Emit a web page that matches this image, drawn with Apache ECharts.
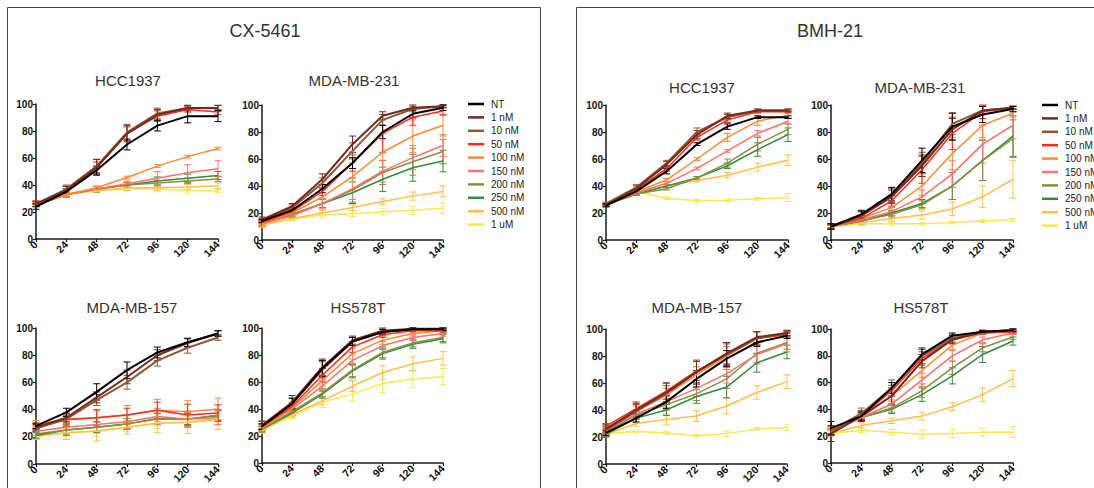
<!DOCTYPE html>
<html><head><meta charset="utf-8">
<script src="https://cdn.jsdelivr.net/npm/echarts@6/dist/echarts.min.js"></script>
<style>html,body{margin:0;padding:0;background:#fff}#c{width:1094px;height:488px}</style>
</head><body><div id="c"></div>
<script>
const timepoints = [0, 24, 48, 72, 96, 120, 144];
const doses = ['NT', '1 nM', '10 nM', '50 nM', '100 nM', '150 nM', '200 nM', '250 nM', '500 nM', '1 uM'];
const panelTitles = ['CX-5461', 'BMH-21'];
const cellLines = ['HCC1937', 'MDA-MB-231', 'MDA-MB-157', 'HS578T'];

// CX-5461
const cxHcc1937 = [
[24,35,51,70,84,91,91],[26,36,53,78,92,97,97],[26,37,54,79,93,97,97],[26,36,53,78,91,96,94],
[26,33,38,45.5,54,61,67],[26,33,37,41,45,49,52],[25,33,37,40,41.5,43,44.5],[25,33,37,40,43,45,47],
[25,33,36,38,38,38.5,39.5],[25,33,35.5,37,37,36,35.5]];
const cxHcc1937Err = [
[2,2,3,4,4,5,4],[2,3,6,6,4,2,2],[2,3,5,6,4,2,2],[2,3,4,5,4,2,2],[1,1,1,1,1,1,1],
[2,2,2,2,5,6,6],[1,2,2,2,2,2,2],[1,2,2,2,3,3,3],[1,1,1,2,2,2,2],[1,1,1,1,2,2,1]];
const cxMda231 = [
[14,22,38,57,80,93.5,98],[15,25,45,71,92,98,99],[14,24,42,66,89,97,99],[13,21,36,57,79,91,95.5],
[12,20,32,47,65,77,85],[12,18,27,38,51,61,70],[12,19,27,37,50,58,65.5],[12,19,27,35,45,53.5,58.5],
[11,16,20,24,28.5,32.5,36],[12,15.5,18.5,19.5,21,22,23.5]];
const cxMda231Err = [
[1,2,3,4,5,3,2],[2,2,4,6,3,2,1],[2,2,4,6,4,2,1],[2,2,3,6,14,6,3],[2,2,5,10,14,12,8],
[2,2,4,8,8,9,8],[2,2,3,9,9,10,9],[2,2,3,8,9,10,8],[2,1,2,2,2,3,4],[1,1,2,2,2,3,4]];
const cxMda157 = [
[28,38,53,69,82,89.5,96],[27,34,49,64,80,89,96],[26,33,47,60,76,85.5,93],[27,32.5,34,36,39.5,36,37.5],
[29,33,34,36,39.5,38.5,40.5],[24,27,29,31,35,33,34],[22,25,27,29.5,33.5,33,36],[21,25,27,29.5,33,33,35.5],
[21,23,24,27,30,30.5,32.5],[20,23,24.5,27,30,31,33]];
const cxMda157Err = [
[2,3,6,6,4,3,2],[2,3,4,5,4,3,2],[2,3,4,5,4,4,2],[3,5,6,5,6,8,6],[3,5,5,7,8,8,8],
[3,4,5,5,6,6,5],[3,4,4,4,4,5,4],[2,3,4,4,4,4,4],[3,5,7,5,7,8,7],[2,3,4,3,4,4,4]];
const cxHs578t = [
[27,44,70,90,97,99,99],[28,45,71,91,98,99.5,99.5],[28,44,69,90,97,99,99],[27,42,65,86,95,98,98],
[26,41,61,81,91,96,98],[26,40,57,76,87,93,96],[25,38,52,69,82,89,93],[25,37,51,68,81,88,92],
[25,36,46,57,67,73.5,77.5],[24,35,45,51,59,62,64]];
const cxHs578tErr = [
[2,4,6,3,2,1,1],[3,5,6,3,2,1,1],[3,4,6,3,2,1,1],[2,3,5,4,2,1,1],[2,3,4,4,3,2,1],
[2,3,4,4,3,2,2],[2,2,3,5,4,3,3],[2,2,3,5,4,3,3],[2,2,3,4,5,5,5],[2,2,4,5,7,6,6]];

// BMH-21
const bmhHcc1937 = [
[25.5,36,51,71,84,91,91],[26,38,56,78,92,96,96],[27,39,57,80,91,96,96],[26,37,53,76,89,95,95],
[26,36,44.5,60,76,88,92.5],[26,35,42,53,66,79,88],[26,34,38,46,57,71,82],[26,34,40,46,55,67,78],
[26,35,40,44,48,54,59],[26,36,31,29,29.5,30.5,31.5]];
const bmhHcc1937Err = [
[1,1,2,1,2,1,1],[1,2,2,3,2,1,1],[1,2,2,3,2,1,1],[1,1,2,2,2,1,1],[1,1,1,1,3,3,2],
[1,1,1,1,1,2,2],[1,1,1,1,3,5,4],[1,1,1,1,2,5,5],[1,1,1,1,2,3,4],[1,1,1,1,1,1,3]];
const bmhMda231 = [
[10,19,34,59,84,93,97],[10,18,32,55,82,96,98],[10,18,33,57,86,96,98],[10,16,29,52,79,95,98],
[10,16,24,40,64,85,94],[10,15,21,32,49,71,85],[10,14,19,26,40,59,75],[10,14,20,27,40,59,77],
[10,13,16,18.5,23,32,45],[10,12,12,12,13,14,15]];
const bmhMda231Err = [
[2,3,5,9,10,6,2],[2,3,5,8,8,3,1],[2,3,5,8,8,3,1],[2,2,4,10,12,5,1],[2,2,4,7,12,9,3],
[2,2,3,5,10,14,10],[1,2,2,3,10,15,14],[1,2,2,3,10,15,15],[1,2,2,3,5,8,14],[1,1,1,1,1,1,1]];
const bmhMda157 = [
[23,34,46,63,78,90,95],[26,40,53,68,82,94,97],[25,39,52,68,81,93,97],[28,41,54,69,81,93,96],
[25,39,51,66,80,93,96],[25,37,46,56,67,81,89],[24,36,44,52,63,82,90],[22,34,40,50,57,75,83],
[22,30,33,35.5,43,53,61],[22.5,24,23,21,22.5,26,27]];
const bmhMda157Err = [
[2,3,5,6,6,3,2],[3,5,7,8,8,4,2],[3,5,6,9,8,5,2],[2,5,6,7,9,5,2],[3,4,5,6,7,5,2],
[2,3,4,6,7,7,6],[2,3,4,5,7,7,5],[2,3,4,5,8,7,5],[2,2,4,4,6,5,5],[1,1,1,1,2,1,2]];
const bmhHs578t = [
[26,35,56,81,95,98,99],[22,35,50,76,92,98,99],[24,37,56,80,93,98,99],[24,35,54,78,92,97,98],
[23,34,50,69,88,97,98],[23,34,44,62,80,92,97],[23,34,41,54,71,86,94],[23,34,40,51,65,81,91],
[22,28,31.5,35,42,51,63],[22,24.5,23,21.5,22,23,23]];
const bmhHs578tErr = [
[5,3,4,4,2,1,1],[6,4,6,5,3,1,1],[3,4,6,6,3,1,1],[2,3,4,5,3,1,1],[2,3,4,5,3,1,1],
[2,3,3,5,4,2,1],[2,3,3,5,5,3,2],[2,3,3,5,6,6,3],[2,2,2,3,3,5,6],[2,2,2,3,3,3,4]];

const doseColors = ['#000000','#742a1e','#8e5a36','#ff2a1f','#ff8a2e','#ff7070','#8c8c3e','#2f8c3a','#ffbf4a','#f6e84e'];

const plots = [
  {mean: cxHcc1937, err: cxHcc1937Err, grid: {left: 36, top: 104, width: 182, height: 135}},
  {mean: cxMda231, err: cxMda231Err, grid: {left: 262, top: 105, width: 181, height: 135}},
  {mean: cxMda157, err: cxMda157Err, grid: {left: 36, top: 328, width: 182, height: 136}},
  {mean: cxHs578t, err: cxHs578tErr, grid: {left: 262, top: 328, width: 181, height: 135}},
  {mean: bmhHcc1937, err: bmhHcc1937Err, grid: {left: 606, top: 105, width: 182, height: 135}},
  {mean: bmhMda231, err: bmhMda231Err, grid: {left: 831, top: 105, width: 182, height: 135}},
  {mean: bmhMda157, err: bmhMda157Err, grid: {left: 606, top: 329, width: 181, height: 135}},
  {mean: bmhHs578t, err: bmhHs578tErr, grid: {left: 831, top: 329, width: 182, height: 134}}
];

const axisColor = '#1a1a1a';
const FONT = '"Liberation Sans", Arial, sans-serif';

function renderErr(params, api) {
  const x = api.value(0);
  const lo = api.coord([x, api.value(1)]);
  const hi = api.coord([x, api.value(2)]);
  const c = api.visual('color');
  const w = 3.5;
  const style = {stroke: c, lineWidth: 1, fill: 'none'};
  return {type: 'group', children: [
    {type: 'line', shape: {x1: lo[0], y1: lo[1], x2: hi[0], y2: hi[1]}, style},
    {type: 'line', shape: {x1: lo[0] - w, y1: lo[1], x2: lo[0] + w, y2: lo[1]}, style},
    {type: 'line', shape: {x1: hi[0] - w, y1: hi[1], x2: hi[0] + w, y2: hi[1]}, style}
  ]};
}

const grids = [], xAxes = [], yAxes = [], series = [];
plots.forEach((p, gi) => {
  grids.push(Object.assign({outerBoundsMode: 'none', containLabel: false}, p.grid));
  xAxes.push({
    type: 'value', gridIndex: gi, min: 0, max: 144, interval: 24,
    axisLine: {show: true, onZero: false, lineStyle: {color: axisColor, width: 1.5}},
    axisTick: {show: true, length: 3, lineStyle: {color: axisColor, width: 1.2}},
    splitLine: {show: false},
    axisLabel: {rotate: 45, fontSize: 10.5, fontWeight: 'bold', color: '#111', margin: 4, fontFamily: FONT, showMinLabel: true, showMaxLabel: true}
  });
  yAxes.push({
    type: 'value', gridIndex: gi, min: 0, max: 100, interval: 20,
    axisLine: {show: true, lineStyle: {color: axisColor, width: 1.5}},
    axisTick: {show: true, length: 3, lineStyle: {color: axisColor, width: 1.2}},
    splitLine: {show: false},
    axisLabel: {fontSize: 10, fontWeight: 'bold', color: '#111', margin: 3, fontFamily: FONT}
  });
  for (let d = doses.length - 1; d >= 0; d--) {
    const m = p.mean[d], e = p.err[d];
    series.push({
      type: 'line', name: doses[d], xAxisIndex: gi, yAxisIndex: gi,
      data: timepoints.map((t, i) => [t, m[i]]),
      showSymbol: false, symbol: 'none', animation: false, silent: true,
      color: doseColors[d],
      lineStyle: {color: doseColors[d], width: d <= 2 ? 2 : 1.5},
      emphasis: {disabled: true}
    });
    series.push({
      type: 'custom', name: doses[d], xAxisIndex: gi, yAxisIndex: gi,
      coordinateSystem: 'cartesian2d', renderItem: renderErr, clip: false,
      itemStyle: {color: doseColors[d]}, color: doseColors[d],
      encode: {x: 0, y: [1, 2]}, animation: false, silent: true,
      data: timepoints.map((t, i) => [t, m[i] - e[i], Math.min(100, m[i] + e[i])])
    });
  }
});

const legendBase = {
  data: doses, orient: 'vertical', icon: 'rect', itemWidth: 16, itemHeight: 2.5, itemGap: 1.4,
  padding: 0, selectedMode: false,
  textStyle: {fontSize: 10, lineHeight: 12, color: '#222', fontFamily: FONT, padding: [0, 0, 0, 2]}
};

function txt(text, x, y, size) {
  return {type: 'text', x: x, y: y, silent: true,
    style: {text: text, fontSize: size, fontFamily: FONT, fill: '#333', align: 'center', verticalAlign: 'middle'}};
}

const titlePos = [
  [265, 31, 18], [128, 80, 15], [354, 80, 15], [132, 307, 15], [358, 307, 15],
  [830, 31, 18], [702, 87, 15], [920, 87, 15], [697, 307, 15], [921, 307, 15]
];
const titleTexts = [panelTitles[0], ...cellLines, panelTitles[1], ...cellLines];

const graphics = [
  {type: 'rect', shape: {x: 7.5, y: 7.5, width: 533, height: 520}, style: {fill: 'none', stroke: '#444', lineWidth: 1}, silent: true},
  {type: 'rect', shape: {x: 576.5, y: 7.5, width: 560, height: 520}, style: {fill: 'none', stroke: '#444', lineWidth: 1}, silent: true}
];
titleTexts.forEach((t, i) => graphics.push(txt(t, titlePos[i][0], titlePos[i][1], titlePos[i][2])));

const chart = echarts.init(document.getElementById('c'), null, {renderer: 'svg', width: 1094, height: 488});
chart.setOption({
  animation: false,
  backgroundColor: '#fff',
  grid: grids, xAxis: xAxes, yAxis: yAxes, series: series,
  legend: [
    Object.assign({}, legendBase, {left: 468, top: 98}),
    Object.assign({}, legendBase, {left: 1042, top: 99})
  ],
  graphic: graphics
});
</script></body></html>
